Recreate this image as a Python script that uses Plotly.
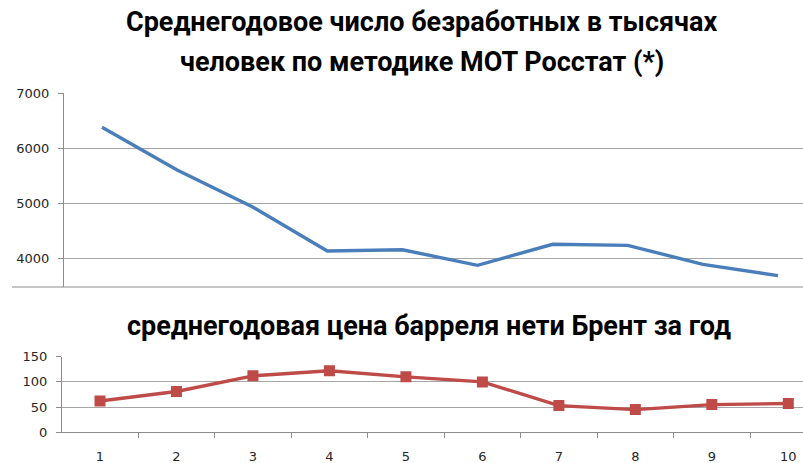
import plotly.graph_objects as go

years = [1, 2, 3, 4, 5, 6, 7, 8, 9, 10]
unemployed = [6376, 5600, 4933, 4127, 4150, 3867, 4250, 4230, 3885, 3680]
brent = [62, 81, 112, 122, 110, 100, 53, 45, 55, 57]
title_top_1 = "Среднегодовое число безработных в тысячах"
title_top_2 = "человек по методике МОТ Росстат (*)"
title_bottom = "среднегодовая цена барреля нети Брент за год"
cats = [str(v) for v in years]

W, H = 803, 463
def py(y):
    return 1 - y / H
def px(x):
    return x / W

fig = go.Figure()
fig.add_trace(go.Scatter(x=years, y=unemployed, mode="lines",
                         line=dict(color="#4a7ebb", width=3.4),
                         xaxis="x", yaxis="y", showlegend=False))
fig.add_trace(go.Scatter(x=cats, y=brent, mode="lines+markers",
                         line=dict(color="#be4b48", width=3.4),
                         marker=dict(symbol="square", size=11, color="#be4b48"),
                         xaxis="x2", yaxis="y2", showlegend=False))

tickfont = dict(family="DejaVu Sans", size=13, color="#262626")
gridc = "#a6a6a6"

# top x: value 1 at 102px, 10 at 778px
sx = (778 - 102) / 9
fig.update_layout(
    width=W, height=H, margin=dict(l=0, r=0, t=0, b=0, pad=0, autoexpand=False),
    paper_bgcolor="white", plot_bgcolor="white",
    xaxis=dict(domain=[px(64), 1], range=[1 - (102 - 64) / sx, 10 + (803 - 778) / sx],
               showticklabels=False, showgrid=False, zeroline=False, ticks="",
               showline=False, fixedrange=True, automargin=False),
    yaxis=dict(domain=[py(287), py(93)], range=[4000 - (287 - 258) / 55 * 1000, 7000],
               tickvals=[4000, 5000, 6000, 7000], showgrid=True, gridcolor=gridc,
               gridwidth=1, zeroline=False, showline=True, linecolor="#8c8c8c",
               ticks="outside", ticklen=5, tickcolor="#8c8c8c", automargin=False,
               tickfont=tickfont, ticklabelstandoff=6, anchor="x"),
)

sx2 = (788.3 - 100) / 9
fig.update_layout(
    xaxis2=dict(domain=[px(62), 1], type="category", categoryorder="array", categoryarray=cats,
                range=[-(100 - 62) / sx2, 9 + (803 - 788.3) / sx2],
                tickson="boundaries", ticks="outside", ticklen=5, tickcolor="#8c8c8c",
                showline=True, linecolor="#8c8c8c", showgrid=False, zeroline=False,
                automargin=False,
                tickfont=tickfont, ticklabelstandoff=12, anchor="y2"),
    yaxis2=dict(domain=[py(432.3), py(356.7)], range=[0, 150],
                tickvals=[0, 50, 100, 150], showgrid=True, gridcolor=gridc,
                zeroline=False, showline=True, linecolor="#8c8c8c",
                ticks="outside", ticklen=5, tickcolor="#8c8c8c", automargin=False,
                tickfont=tickfont, ticklabelstandoff=6, anchor="x2"),
)

fig.add_shape(type="line", xref="paper", yref="paper",
              x0=px(12), x1=1, y0=py(287), y1=py(287),
              line=dict(color="#8c8c8c", width=1))

tfont = "Roboto, sans-serif"
fig.add_annotation(text="<b>" + title_top_1 + "</b>", x=px(421), y=py(22), xref="paper", yref="paper",
                   showarrow=False, font=dict(family=tfont, size=27, color="black"),
                   xanchor="center", yanchor="middle")
fig.add_annotation(text="<b>" + title_top_2 + "</b>", x=px(422), y=py(62), xref="paper", yref="paper",
                   showarrow=False, font=dict(family=tfont, size=27, color="black"),
                   xanchor="center", yanchor="middle")
fig.add_annotation(text="<b>" + title_bottom + "</b>", x=px(429), y=py(326), xref="paper", yref="paper",
                   showarrow=False, font=dict(family=tfont, size=27, color="black"),
                   xanchor="center", yanchor="middle")

fig.write_html("out.html", config={"displayModeBar": False},
               post_script="document.body.style.margin='0px';document.body.style.overflow='hidden';")
